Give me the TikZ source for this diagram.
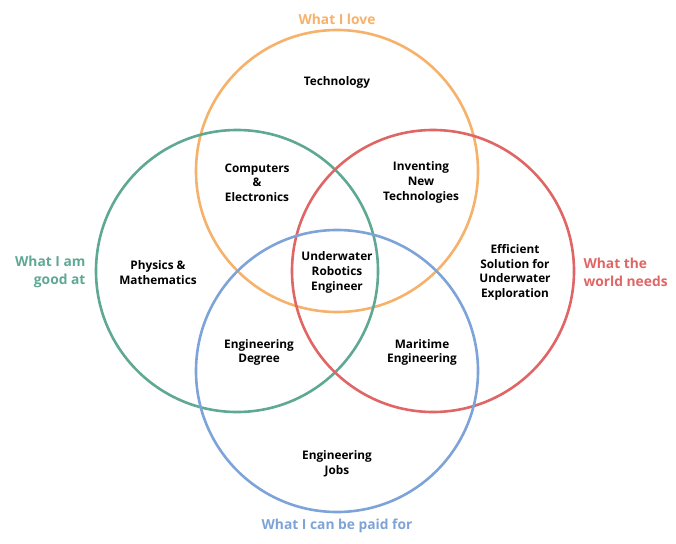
\documentclass[tikz,border=0pt]{standalone}
\usepackage{fontspec}
\setmainfont{Open Sans}
\usepackage{tikz}
\usetikzlibrary{positioning}

\definecolor{loveC}{HTML}{F6B26B}
\definecolor{goodC}{HTML}{5FA894}
\definecolor{needC}{HTML}{E06666}
\definecolor{paidC}{HTML}{7DA3D8}

\begin{document}
\begin{tikzpicture}[
 x=1pt, y=-1pt,
 ring/.style={line width=2.6pt, #1},
 lbl/.style={font=\fontsize{11.8}{14.6}\selectfont\bfseries, align=center, text=black, yshift=-1.5pt},
 ttl/.style={font=\fontsize{13.8}{18}\selectfont\bfseries, text=#1}
]
\useasboundingbox (0,0) rectangle (676,543);

% Circles
\draw[ring=loveC] (337,171) circle[radius=141];
\draw[ring=goodC] (237,271) circle[radius=141];
\draw[ring=needC] (433,271) circle[radius=141];
\draw[ring=paidC] (337,371) circle[radius=141];

% Titles
\node[ttl=loveC] (love) at (337,19) {What I love};
\node[ttl=goodC, align=right, anchor=east] (good) at (89,272) {What I am\\good at};
\node[ttl=needC, align=left, anchor=west] (need) at (580,272) {What the\\world needs};
\node[ttl=paidC] (paid) at (337,526) {What I can be paid for};

% Regions
\node[lbl] (tech) at (337,81) {Technology};
\node[lbl] (comp) at (257,181) {Computers\\\&\\Electronics};
\node[lbl] (inv) at (421,181) {Inventing\\New\\Technologies};
\node[lbl] (phys) at (158,271) {Physics \&\\Mathematics};
\node[lbl] (core) at (337,271) {Underwater\\Robotics\\Engineer};
\node[lbl] (eff) at (515,271) {Efficient\\Solution for\\Underwater\\Exploration};
\node[lbl] (deg) at (259,351) {Engineering\\Degree};
\node[lbl] (mar) at (422,351) {Maritime\\Engineering};
\node[lbl] (jobs) at (337,462) {Engineering\\Jobs};
\end{tikzpicture}
\end{document}
